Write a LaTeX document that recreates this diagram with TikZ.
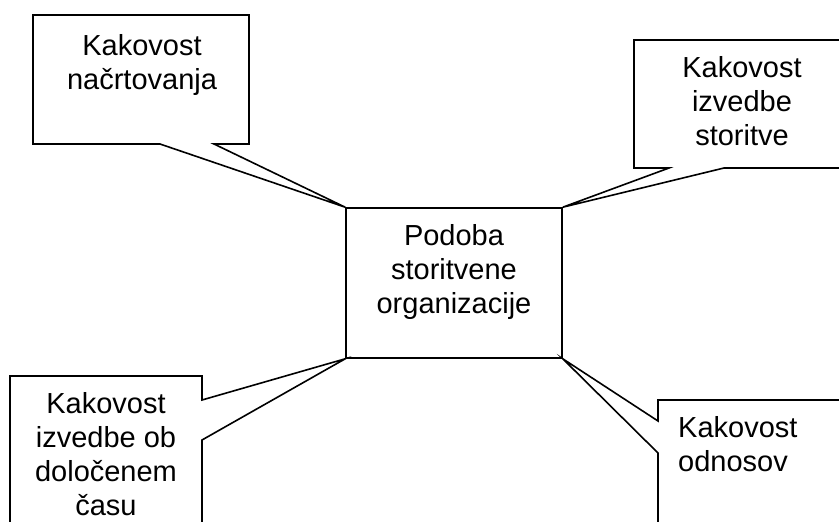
\documentclass[tikz,border=0pt]{standalone}
\usepackage{fontspec}
\setmainfont{Liberation Sans}
\tikzset{
  outline/.style={line width=1.6pt, line join=miter},
  label text/.style={inner sep=0pt, align=center, font=\fontsize{29}{34}\selectfont},
}

\begin{document}
\begin{tikzpicture}[x=1pt,y=-1pt]
\useasboundingbox (0,0) rectangle (839,522);
\clip (0,0) rectangle (839,522);
% centre box
\node[outline, draw, minimum width=216pt, minimum height=150pt, inner sep=0pt] (image) at (454,283) {};
\node[label text, anchor=north] (imagetext) at (454,224) {Podoba\\storitvene\\organizacije};
% top left
\coordinate (tlA) at (160,144);
\coordinate (tlB) at (214,144);
\draw[outline] (tlA) -- (image.north west) -- (tlB) -- (249,144) -- (249,15) -- (33,15) -- (33,144) -- cycle;
\node[label text, anchor=north] (planning) at (142,34) {Kakovost\\načrtovanja};
% top right
\coordinate (trA) at (669,168);
\coordinate (trB) at (724,168);
\draw[outline] (trA) -- (image.north east) -- (trB) -- (860,168) -- (860,40) -- (634,40) -- (634,168) -- cycle;
\node[label text, anchor=north] (delivery) at (742,56) {Kakovost\\izvedbe\\storitve};
% bottom left
\coordinate (blA) at (202,400);
\coordinate (blB) at (202,440);
\draw[outline] (blB) -- (image.south west) -- (blA) -- (202,376) -- (10,376) -- (10,545) -- (202,545) -- cycle;
\node[label text, anchor=north] (ontime) at (106,392) {Kakovost\\izvedbe ob\\določenem\\času};
% bottom right
\coordinate (brA) at (658,421);
\coordinate (brB) at (658,453);
\draw[outline] (brA) -- (image.south east) -- (brB) -- (658,545) -- (860,545) -- (860,400) -- (658,400) -- cycle;
\node[label text, align=left, anchor=north west] (relations) at (678,416) {Kakovost\\odnosov};
\end{tikzpicture}
\end{document}
